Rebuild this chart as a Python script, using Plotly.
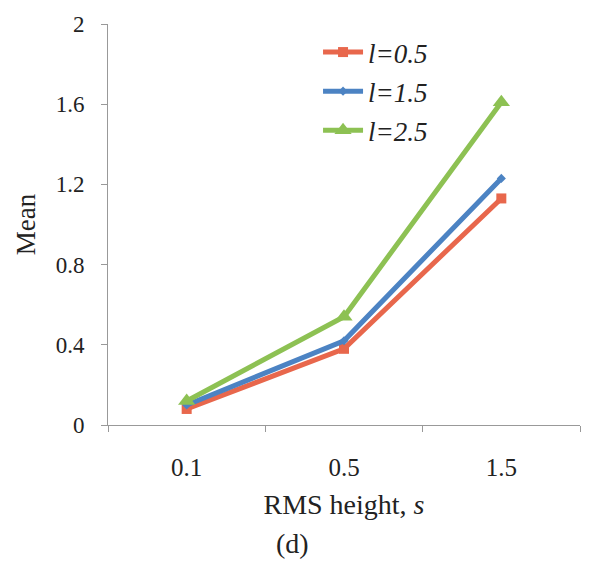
import plotly.graph_objects as go

categories = ["0.1", "0.5", "1.5"]
l05 = [0.08, 0.38, 1.13]
l15 = [0.10, 0.42, 1.23]
l25 = [0.12, 0.54, 1.61]
names = ["<i>l=0.5</i>", "<i>l=1.5</i>", "<i>l=2.5</i>"]
y_ticks = [0, 0.4, 0.8, 1.2, 1.6, 2]
y_ticklabels = ["0", "0.4", "0.8", "1.2", "1.6", "2"]

colors = ["#E8674C", "#4C83C3", "#8DC153"]
symbols = ["square", "diamond", "triangle-up"]
msizes = [10, 7, 15]

fig = go.Figure()
for i, (vals, nm) in enumerate(zip([l05, l15, l25], names)):
    fig.add_trace(go.Scatter(
        x=categories, y=vals, name=nm, mode="lines+markers",
        line=dict(color=colors[i], width=5),
        marker=dict(symbol=symbols[i], size=msizes[i], color=colors[i]),
        legendgroup=str(i),
    ))

serif = "Liberation Serif"
fig.update_layout(
    width=593, height=562,
    margin=dict(l=108, r=13, t=16, b=137),
    plot_bgcolor="white", paper_bgcolor="white",
    font=dict(family=serif, size=22, color="#222"),
    showlegend=True,
    legend=dict(x=0.445, y=0.99, xanchor="left", yanchor="top",
                bgcolor="rgba(0,0,0,0)", font=dict(size=27, family=serif),
                tracegroupgap=1, itemwidth=40),
    xaxis=dict(type="category", range=[-0.5, 2.5], tickson="boundaries",
               ticks="outside", ticklen=6, tickcolor="#999",
               showline=True, linecolor="#999", linewidth=1, showgrid=False,
               tickfont=dict(size=25, family=serif), ticklabelstandoff=20,
               title=dict(text="RMS height, <i>s</i>", font=dict(size=28, family=serif), standoff=14)),
    yaxis=dict(range=[0, 2], tickvals=y_ticks, ticktext=y_ticklabels,
               ticks="outside", ticklen=6, tickcolor="#999",
               showline=True, linecolor="#999", linewidth=1, showgrid=False,
               zeroline=False, tickfont=dict(size=23, family=serif), ticklabelstandoff=12,
               title=dict(text="Mean", font=dict(size=27, family=serif), standoff=12)),
)
fig.add_annotation(text="(d)", xref="paper", yref="paper", x=0.39, y=-0.295,
                   xanchor="center", yanchor="middle", showarrow=False,
                   font=dict(size=28, family=serif))
fig.write_html("out.html")
